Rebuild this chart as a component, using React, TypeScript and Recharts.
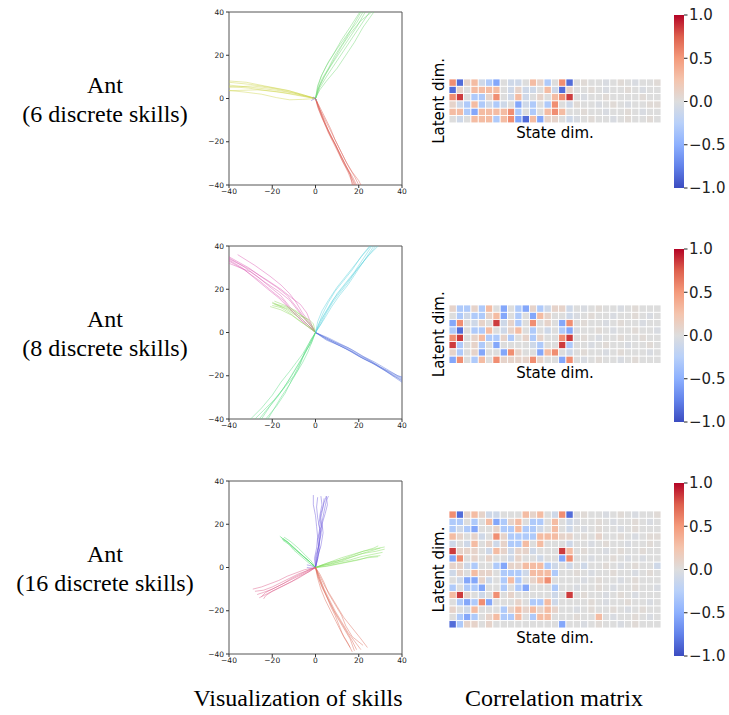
import React from 'react';
import { ScatterChart, Scatter, XAxis, YAxis, ReferenceArea } from 'recharts';

type Pt = [number, number];

// ---------- trajectories, row 1 (6 discrete skills) ----------
const r1Yellow: Pt[][] = [
  [[0, 0], [-4, 1], [-10, 2.5], [-18, 3.8], [-28, 5], [-40, 6.2]],
  [[0, 0], [-5, 1.5], [-12, 3.5], [-20, 5], [-30, 6.5], [-40, 7.5]],
  [[0, 0], [-5, 1.2], [-11, 2.8], [-19, 4.5], [-29, 5.8], [-40, 5.2]],
  [[0, 0], [-6, 1], [-14, 2.5], [-22, 3.6], [-31, 4.8], [-40, 5.6]],
  [[0, 0], [-4, 0.8], [-10, 2], [-18, 3.2], [-27, 4], [-40, 3.6]],
  [[0, 0], [-6, -0.4], [-12, -0.6], [-18, 0.4], [-25, 2], [-33, 3], [-40, 3.7]],
  [[0, 0], [-5, 1.5], [-13, 3.8], [-22, 5.5], [-32, 7.5], [-40, 8.1]],
];
const r1Green: Pt[][] = [
  [[0, 0], [1, 4], [3, 9], [6, 14], [9, 20], [13, 26], [17, 33], [21, 40]],
  [[0, 0], [1.5, 5], [4, 10], [7, 15], [11, 21], [15, 27], [19, 33], [23, 40]],
  [[0, 0], [2, 5], [5, 10], [9, 16], [13, 22], [17, 28], [21, 34], [25, 40]],
  [[0, 0], [1, 6], [3, 11], [6, 17], [10, 23], [15, 30], [19, 35], [22, 40]],
  [[0, 0], [2, 4], [5, 8], [10, 14], [14, 20], [18, 26], [22, 33], [27, 40]],
  [[0, 0], [1, 5], [2.5, 10], [5, 15], [8, 20], [12, 27], [16, 33], [20.5, 40]],
  [[0, 0], [2, 6], [4.5, 11], [8, 17], [12, 24], [16, 30], [21, 36], [26, 40]],
];
const r1Red: Pt[][] = [
  [[0, 0], [1.5, -4], [3, -8], [5, -13], [7, -18], [10, -24], [13, -30], [16, -35], [18, -40]],
  [[0, 0], [2, -5], [4, -10], [6, -15], [8.5, -20], [11, -25], [14, -31], [17, -36], [19, -40]],
  [[0, 0], [1, -4], [3, -9], [5.5, -14], [8, -19], [10, -23], [13, -29], [16, -35], [17, -40]],
  [[0, 0], [2, -4], [4.5, -9], [7, -14], [9, -19], [12, -25], [15, -31], [18, -36], [20, -40]],
  [[0, 0], [1.5, -5], [3.5, -10], [6, -16], [9, -21], [12, -27], [15, -33], [17, -37], [18.5, -40]],
  [[0, 0], [2, -5], [5, -11], [8, -17], [11, -23], [14, -29], [17, -34], [20, -38], [21, -40]],
  [[0, 0], [1, -3], [2.5, -7], [4.5, -12], [7, -17], [9.5, -22], [12, -28], [15, -34], [17.5, -40]],
];
const r1Blue: Pt[][] = [
  [[0, 0], [-1.2, -0.5], [-2, -1]],
  [[0, 0], [-0.8, 0.6], [-1.5, 0.2]],
];
const r1Cyan: Pt[][] = [[[0, 0], [0.5, -0.8], [0.2, -1.2]]];

// ---------- trajectories, row 2 (8 discrete skills) ----------
const r2Pink: Pt[][] = [
  [[0, 0], [-3, 3], [-7, 6], [-11, 10], [-15, 15], [-20, 19], [-26, 24], [-33, 29], [-40, 33]],
  [[0, 0], [-4, 4], [-8, 8], [-12, 12], [-16, 17], [-21, 21], [-27, 26], [-34, 31], [-40, 34.5]],
  [[0, 0], [-3, 4], [-6, 8], [-9, 12], [-13, 17], [-18, 21], [-24, 25], [-31, 30], [-40, 35]],
  [[0, 0], [-2, 3], [-5, 6], [-8, 10], [-12, 15], [-17, 19], [-23, 23], [-30, 28], [-40, 32]],
  [[0, 0], [-3, 5], [-6, 9], [-9, 14], [-12, 18], [-16, 22], [-21, 26], [-28, 31], [-36, 36]],
  [[0, 0], [-4, 3], [-8, 7], [-12, 11], [-17, 16], [-22, 20], [-28, 25], [-34, 30], [-40, 33.5]],
  [[0, 0], [-2, 4], [-4, 9], [-7, 13], [-11, 16], [-16, 20], [-22, 24], [-30, 29], [-40, 34]],
];
const r2LightGreen: Pt[][] = [
  [[0, 0], [-3, 3], [-6, 6], [-10, 8.5], [-14, 11], [-20, 14]],
  [[0, 0], [-2, 4], [-5, 7], [-9, 9.5], [-14, 12], [-20, 13.5]],
  [[0, 0], [-3, 2.5], [-7, 5], [-11, 8], [-16, 10.5], [-21, 12]],
  [[0, 0], [-2, 3], [-5, 6.5], [-9, 10], [-14, 12.5], [-19, 14.5]],
  [[0, 0], [-1, 4], [-3, 6], [-8, 8], [-13, 11], [-19, 13]],
  [[0, 0], [-4, 3], [-8, 6], [-12, 9], [-16, 11.5], [-20, 12.5]],
];
const r2Cyan: Pt[][] = [
  [[0, 0], [2, 4], [4, 8], [7, 13], [10, 18], [14, 23], [18, 28], [22, 34], [26, 40]],
  [[0, 0], [1.5, 4], [3.5, 9], [6, 14], [9, 19], [13, 24], [17, 29], [21, 35], [25, 40]],
  [[0, 0], [2, 5], [5, 10], [8, 15], [12, 20], [16, 25], [20, 30], [24, 35], [28, 40]],
  [[0, 0], [2.5, 4], [5, 9], [8, 14], [11, 18], [15, 23], [19, 29], [24, 35], [29, 40]],
  [[0, 0], [1, 5], [3, 10], [6, 15], [10, 21], [14, 26], [18, 31], [22, 36], [25.5, 40]],
  [[0, 0], [2, 3], [4.5, 7], [7.5, 12], [11, 17], [15, 22], [19, 28], [23, 34], [27, 40]],
];
const r2Blue: Pt[][] = [
  [[0, 0], [5, -2.5], [10, -5], [15, -7.5], [20, -10.5], [25, -13], [30, -16], [35, -18.5], [40, -21]],
  [[0, 0], [4, -2.5], [9, -5], [14, -7.5], [20, -11], [26, -14], [31, -17], [36, -20], [40, -22]],
  [[0, 0], [5, -3], [10, -5.5], [16, -8.5], [21, -11.5], [27, -14.5], [32, -17.5], [37, -21], [40, -23]],
  [[0, 0], [6, -2.5], [11, -5], [17, -8], [22, -11], [27, -13.5], [33, -17], [38, -20], [40, -20.5]],
  [[0, 0], [4, -2], [9, -4.5], [15, -7], [20, -10], [26, -13.5], [31, -16.5], [36, -19.5], [40, -21.5]],
  [[0, 0], [5, -3.5], [11, -6], [17, -9], [22, -12], [28, -15], [33, -18], [37, -20.5], [40, -22.5]],
];
const r2Green: Pt[][] = [
  [[0, 0], [-2, -4], [-4, -8], [-7, -13], [-10, -18], [-13, -23], [-17, -29], [-21, -34], [-25, -40]],
  [[0, 0], [-2.5, -5], [-5, -10], [-8, -15], [-11, -20], [-15, -26], [-19, -31], [-24, -36], [-28, -40]],
  [[0, 0], [-1.5, -4], [-3.5, -9], [-6, -14], [-9, -19], [-12, -24], [-16, -30], [-19, -35], [-22, -40]],
  [[0, 0], [-3, -5], [-6, -10], [-9, -14], [-12, -18], [-16, -23], [-20, -29], [-25, -35], [-30, -40]],
  [[0, 0], [-2, -5], [-5, -9], [-7, -14], [-10, -20], [-14, -25], [-18, -30], [-22, -35], [-26, -40]],
  [[0, 0], [-2, -3], [-4, -7], [-6, -12], [-8, -17], [-11, -22], [-14, -28], [-18, -34], [-23, -40]],
];

// ---------- trajectories, row 3 (16 discrete skills) ----------
const r3Purple: Pt[][] = [
  [[0, 0], [1, 4], [2, 9], [1.5, 14], [2.5, 19], [2, 24], [3, 29], [2.5, 33]],
  [[0, 0], [0.5, 5], [1.5, 10], [2.5, 15], [1.5, 20], [2.5, 25], [4, 30], [5, 33]],
  [[0, 0], [-0.5, 4], [0.5, 9], [1, 14], [0.5, 19], [0, 24], [-1, 29], [-1, 33.5]],
  [[0, 0], [1, 5], [2.5, 10], [3.5, 16], [3, 21], [4, 26], [5, 31], [6, 33]],
  [[0, 0], [0.5, 3], [1, 8], [2, 13], [3, 18], [2.5, 23], [3.5, 28], [4, 32]],
  [[0, 0], [1, 4], [1.5, 8], [1, 13], [2, 18], [1, 23], [0.5, 28], [1, 32.5]],
  [[0, 0], [0, 5], [1.5, 10], [2, 15], [3, 20], [4.5, 25], [5.5, 29], [5, 33]],
  [[0, 0], [-2, 0.8], [-4, 1.2]],
  [[0, 0], [-1.5, -0.3], [-4, 0]],
];
const r3Green: Pt[][] = [
  [[0, 0], [-3, 3], [-6, 5.5], [-9, 8], [-12, 11], [-16, 14]],
  [[0, 0], [-2.5, 2.5], [-5.5, 5], [-9, 8.5], [-12.5, 11.5], [-15, 13.5]],
  [[0, 0], [-3, 2], [-6.5, 5], [-10, 8], [-13, 11.5], [-16.5, 14.5]],
  [[0, 0], [-2, 3], [-5, 6], [-8, 9], [-11.5, 12], [-14.5, 14]],
  [[0, 0], [-3.5, 3.5], [-7, 6.5], [-10, 9], [-13, 12], [-15.5, 13]],
  [[0, 0], [-2, 2], [-5, 4.5], [-8.5, 7.5], [-12, 10.5], [-15, 12.5]],
];
const r3LightGreen: Pt[][] = [
  [[0, 0], [4, 1], [8, 2], [12, 3], [16, 4.5], [20, 6], [25, 7.5], [30, 9]],
  [[0, 0], [4, 0.5], [9, 1.5], [14, 2.5], [19, 3.5], [24, 4.5], [29, 5]],
  [[0, 0], [5, 1.5], [10, 3], [14, 4.5], [18, 6], [22, 7.5], [27, 8.5], [32, 9.5]],
  [[0, 0], [3, 1], [7, 1.5], [11, 2.5], [16, 3.5], [21, 5], [26, 6], [31, 7]],
  [[0, 0], [4, 1.5], [8, 3], [12, 4.5], [17, 6], [22, 7.5], [27, 9], [29, 10]],
  [[0, 0], [5, 0.5], [10, 1.5], [15, 2.5], [20, 3.5], [25, 5], [30, 5.5]],
  [[0, 0], [3, 1.2], [7, 2.5], [12, 3.5], [17, 5], [22, 6.5], [28, 7.5], [32, 8.5]],
];
const r3Pink: Pt[][] = [
  [[0, 0], [-4, -1.5], [-8, -3], [-12, -5], [-16, -7], [-20, -9], [-24, -10.5], [-28, -11]],
  [[0, 0], [-3, -2], [-7, -4], [-11, -6.5], [-15, -8.5], [-19, -10.5], [-23, -12.5], [-26, -14]],
  [[0, 0], [-5, -1], [-9, -2.5], [-13, -4], [-17, -6], [-21, -7.5], [-25, -9], [-29, -10]],
  [[0, 0], [-4, -2], [-8, -4], [-12, -6], [-16, -8], [-20, -10], [-24, -11.5], [-27, -12.5]],
  [[0, 0], [-3, -1], [-7, -3], [-11, -5], [-15, -7.5], [-19, -9.5], [-23, -11.5], [-25, -13.5]],
  [[0, 0], [-4, -2.5], [-8, -5], [-12, -7], [-16, -9], [-20, -11], [-23, -13], [-24, -14.5]],
];
const r3Salmon: Pt[][] = [
  [[0, 0], [1.5, -4], [3, -8], [5, -13], [7, -18], [9, -22], [11, -27], [13, -32], [16, -37]],
  [[0, 0], [2, -5], [4, -10], [6.5, -15], [9, -20], [12, -25], [15, -30], [18, -34], [21, -38]],
  [[0, 0], [1, -4], [3, -9], [5.5, -14], [8, -19], [10, -23], [13, -28], [16, -33], [18, -38.5]],
  [[0, 0], [2, -4], [4.5, -9], [7, -13], [10, -18], [13, -23], [17, -28], [21, -33], [24, -37]],
  [[0, 0], [1.5, -5], [3.5, -10], [6, -15], [8.5, -20], [11, -24], [14, -29], [17, -34], [19, -38]],
  [[0, 0], [2, -3], [4, -7], [6, -12], [9, -17], [12, -22], [14, -27], [17, -32], [22, -36]],
  [[0, 0], [1, -5], [2.5, -10], [4.5, -15], [7, -20], [9.5, -25], [12, -30], [15, -35], [17, -39]],
];

const row1Trajs = [r1Yellow, r1Green, r1Red, r1Blue, r1Cyan];
const row1Colors = ['#cfd44c', '#6fd870', '#db5f57', '#5f57db', '#57c8db'];
const row2Trajs = [r2Pink, r2LightGreen, r2Cyan, r2Blue, r2Green];
const row2Colors = ['#db57b2', '#8ed85a', '#57d0db', '#5770db', '#57db80'];
const row3Trajs = [r3Purple, r3Green, r3LightGreen, r3Pink, r3Salmon];
const row3Colors = ['#6a57db', '#57db6e', '#7fdb57', '#db5785', '#db6857'];

const axisTicks = [-40, -20, 0, 20, 40];

// ---------- correlation matrices (one string per latent dim, one char per state dim) ----------
const levelCodes = ['B', 'b', 'l', 'm', 'n', '0', 'o', 'p', 'q', 'r', 'R'];
const levelValues = [-0.85, -0.55, -0.3, -0.1, -0.035, 0, 0.035, 0.1, 0.3, 0.55, 0.85];

const corr6 = [
  'rBpqmlb0mm0qpl0rB0o00n0o0n00o',
  'Bp0qqqq0mpmm0qmBp00o0n00o0n00',
  'rR0llpr0mqm0p0qrR0n00o0000o00',
  'pmlqlmlm0bml0lr0mo00n0o0n00oo',
  'qqlbqqqqrl0l0qrq00o00n00o0n00',
  '0m0qqqlqrbBqbpp0mn0o00n0o00o0',
];
const corr8 = [
  'pllplq0b0lbplmppm0n0o00n0o000',
  '0lmllpqb0l0bqp00mn0o00n00o0n0',
  'br0mp0Rmpl0r0p0br0o00n0o00n00',
  'lB0llq0mpq0l0m0lbn00o0n00o00n',
  'rR0pqllpl0plp00rR0o0n00o00o00',
  'Rl0pl0b0000ml00Rl00n0o00n00o0',
  'pl0pb00brp00bqr0m0o00n0o000n0',
  'br0lq0rpppprp00br0n0o00n0o000',
];
const corr16 = [
  'rBpqpmm000qpq0mrB0o00n0o0n00o',
  'll0l0qblpq0ll0q0mn00o0n00o0n0',
  'lmlb00pllqllm0q0m0n0o00n0o000',
  'qp0pm0rpllllqqqpp0o0p00o0n0oo',
  'm0mq0pmpllq0q000m00n0o00n00o0',
  'Rppp0mqpmppm000Rq0o00n0o00o00',
  'br0p0p00mp00m00br00n00o0n0n00',
  'ppml00lbppqqqlm0m0m00o0n0o00m',
  'mp0qpp0lllmqqql00o0n00o00n0o0',
  '0mbbpm0lql0pqr0000n0o00n0o000',
  'l0llb00l0lb000l00n00o0n00o00n',
  'qRp0m0r0p00000m0R0o00n0o0n000',
  '0lblrb000p0llqm0000o0n00o00n0',
  'p0mq000lpqpqpqp00n0o00o0n0o00',
  '0lbl0pqllq0lqq000o00q0n00o0n0',
  'Blpp0p000000000b00n0o00n0o000',
];

const cbTicks = [-1, -0.5, 0, 0.5, 1];

// matplotlib "coolwarm" anchor colours, from -1 to 1
const coolwarmStops = [
  [59, 76, 192], [98, 130, 234], [141, 176, 254], [184, 208, 249], [221, 221, 221],
  [244, 196, 173], [244, 154, 123], [222, 96, 77], [180, 4, 38],
];

function coolwarm(v: number) {
  const t = Math.max(0, Math.min(1, (v + 1) / 2)) * (coolwarmStops.length - 1);
  const i = Math.min(coolwarmStops.length - 2, Math.floor(t));
  const f = t - i;
  const a = coolwarmStops[i];
  const b = coolwarmStops[i + 1];
  const c = a.map((x, k) => Math.round(x + (b[k] - x) * f));
  return `rgb(${c[0]},${c[1]},${c[2]})`;
}

const fmtTick = (v: number) => (v < 0 ? `\u2212${-v}` : `${v}`);
const fmtCb = (v: number) => (v < 0 ? `\u2212${(-v).toFixed(1)}` : v.toFixed(1));

const SANS = 'DejaVu Sans, sans-serif';
const SERIF = 'Liberation Serif, Times New Roman, serif';

const PLOT = 173;
const CELL = 212 / 29;

const NoDot = () => <g />;

function TrajPlot({ top, trajs, colors }: { top: number; trajs: Pt[][][]; colors: string[] }) {
  const yw = 34;
  const mTop = 6;
  return (
    <div style={{ position: 'absolute', left: 229 - yw, top: top - mTop }}>
      <ScatterChart width={yw + PLOT + 8} height={mTop + PLOT + 18} margin={{ top: mTop, right: 8, bottom: 0, left: 0 }}>
        <XAxis
          type="number" dataKey="x" domain={[-40, 40]} ticks={axisTicks} tickFormatter={fmtTick}
          tick={{ fontSize: 7.5, fill: '#222', fontFamily: SANS }} tickSize={3} tickMargin={1}
          tickLine={{ stroke: '#333' }} axisLine={false} height={18} allowDataOverflow
        />
        <YAxis
          type="number" dataKey="y" domain={[-40, 40]} ticks={axisTicks} tickFormatter={fmtTick}
          tick={{ fontSize: 7.5, fill: '#222', fontFamily: SANS }} tickSize={3} tickMargin={2}
          tickLine={{ stroke: '#333' }} axisLine={false} width={yw} allowDataOverflow
        />
        {trajs.flatMap((skill, si) =>
          skill.map((tr, ti) => (
            <Scatter
              key={`${si}-${ti}`}
              data={tr.map(([x, y]) => ({ x, y }))}
              line={{ stroke: colors[si], strokeWidth: 0.9, strokeOpacity: 0.5 }}
              lineType="joint"
              shape={NoDot}
              isAnimationActive={false}
            />
          ))
        )}
        <ReferenceArea x1={-40} x2={40} y1={-40} y2={40} fill="none" stroke="#555" strokeWidth={1} ifOverflow="visible" />
      </ScatterChart>
    </div>
  );
}

function Heatmap({ top, rows }: { top: number; rows: string[] }) {
  const n = rows.length;
  const cells = rows.flatMap((row, r) =>
    row.split('').map((ch, c) => ({ x: c + 0.5, y: r + 0.5, v: levelValues[levelCodes.indexOf(ch)] }))
  );
  const CellShape = (p: any) => (
    <rect
      x={p.cx - CELL / 2} y={p.cy - CELL / 2} width={CELL} height={CELL}
      fill={coolwarm(p.payload.v)} stroke="#ffffff" strokeWidth={0.8}
    />
  );
  return (
    <div style={{ position: 'absolute', left: 449, top }}>
      <ScatterChart width={CELL * 29} height={CELL * n} margin={{ top: 0, right: 0, bottom: 0, left: 0 }}>
        <XAxis type="number" dataKey="x" domain={[0, 29]} hide />
        <YAxis type="number" dataKey="y" domain={[0, n]} reversed hide />
        <Scatter data={cells} shape={CellShape} isAnimationActive={false} />
        <ReferenceArea x1={0} x2={29} y1={0} y2={n} fill="none" stroke="#c4c4c4" strokeWidth={1} />
      </ScatterChart>
    </div>
  );
}

function Colorbar({ top, id }: { top: number; id: string }) {
  const m = 10;
  return (
    <div style={{ position: 'absolute', left: 674, top: top - m }}>
      <ScatterChart width={10 + 55} height={PLOT + 2 * m} margin={{ top: m, right: 0, bottom: m, left: 0 }}>
        <defs>
          <linearGradient id={id} x1="0" y1="1" x2="0" y2="0">
            {coolwarmStops.map((c, i) => (
              <stop key={i} offset={`${(i / (coolwarmStops.length - 1)) * 100}%`} stopColor={`rgb(${c[0]},${c[1]},${c[2]})`} />
            ))}
          </linearGradient>
        </defs>
        <XAxis type="number" dataKey="x" domain={[0, 1]} hide />
        <YAxis
          type="number" dataKey="y" orientation="right" domain={[-1, 1]} ticks={cbTicks} tickFormatter={fmtCb}
          tick={{ fontSize: 15, fill: '#222', fontFamily: SANS }} tickSize={3.5} tickMargin={1.5}
          tickLine={{ stroke: '#222' }} axisLine={false} width={55}
        />
        <ReferenceArea x1={0} x2={1} y1={-1} y2={1} fill={`url(#${id})`} fillOpacity={1} stroke="none" />
        <Scatter data={cbTicks.map((t) => ({ x: 0.5, y: t }))} shape={NoDot} isAnimationActive={false} />
      </ScatterChart>
    </div>
  );
}

const rowLayout = [
  { plotTop: 12, hmTop: 79, cbTop: 15, labelY: 93, title: '(6 discrete skills)', trajs: row1Trajs, colors: row1Colors, corr: corr6 },
  { plotTop: 246, hmTop: 305, cbTop: 249, labelY: 327, title: '(8 discrete skills)', trajs: row2Trajs, colors: row2Colors, corr: corr8 },
  { plotTop: 481, hmTop: 511, cbTop: 483, labelY: 562, title: '(16 discrete skills)', trajs: row3Trajs, colors: row3Colors, corr: corr16 },
];

export default function App() {
  return (
    <div style={{ position: 'absolute', left: 0, top: 0, width: 729, height: 715, background: '#fff', overflow: 'hidden' }}>
      <svg width={729} height={715} style={{ position: 'absolute', left: 0, top: 0 }}>
        {rowLayout.map((r, i) => {
          const hmH = CELL * r.corr.length;
          return (
            <g key={i}>
              <text x={105} y={r.labelY} textAnchor="middle" fontFamily={SERIF} fontSize={24} fill="#000">Ant</text>
              <text x={105} y={r.labelY + 29} textAnchor="middle" fontFamily={SERIF} fontSize={24} fill="#000">{r.title}</text>
              <text x={555} y={r.hmTop + hmH + 15} textAnchor="middle" fontFamily={SANS} fontSize={15} fill="#000">State dim.</text>
              <text transform={`translate(444, ${r.hmTop + hmH / 2}) rotate(-90)`} textAnchor="middle" fontFamily={SANS} fontSize={15} fill="#000">Latent dim.</text>
            </g>
          );
        })}
        <text x={298} y={706} textAnchor="middle" fontFamily={SERIF} fontSize={24} fill="#000">Visualization of skills</text>
        <text x={554} y={706} textAnchor="middle" fontFamily={SERIF} fontSize={24} fill="#000">Correlation matrix</text>
      </svg>
      {rowLayout.map((r, i) => (
        <React.Fragment key={i}>
          <TrajPlot top={r.plotTop} trajs={r.trajs} colors={r.colors} />
          <Heatmap top={r.hmTop} rows={r.corr} />
          <Colorbar top={r.cbTop} id={`cb-grad-${i}`} />
        </React.Fragment>
      ))}
    </div>
  );
}
